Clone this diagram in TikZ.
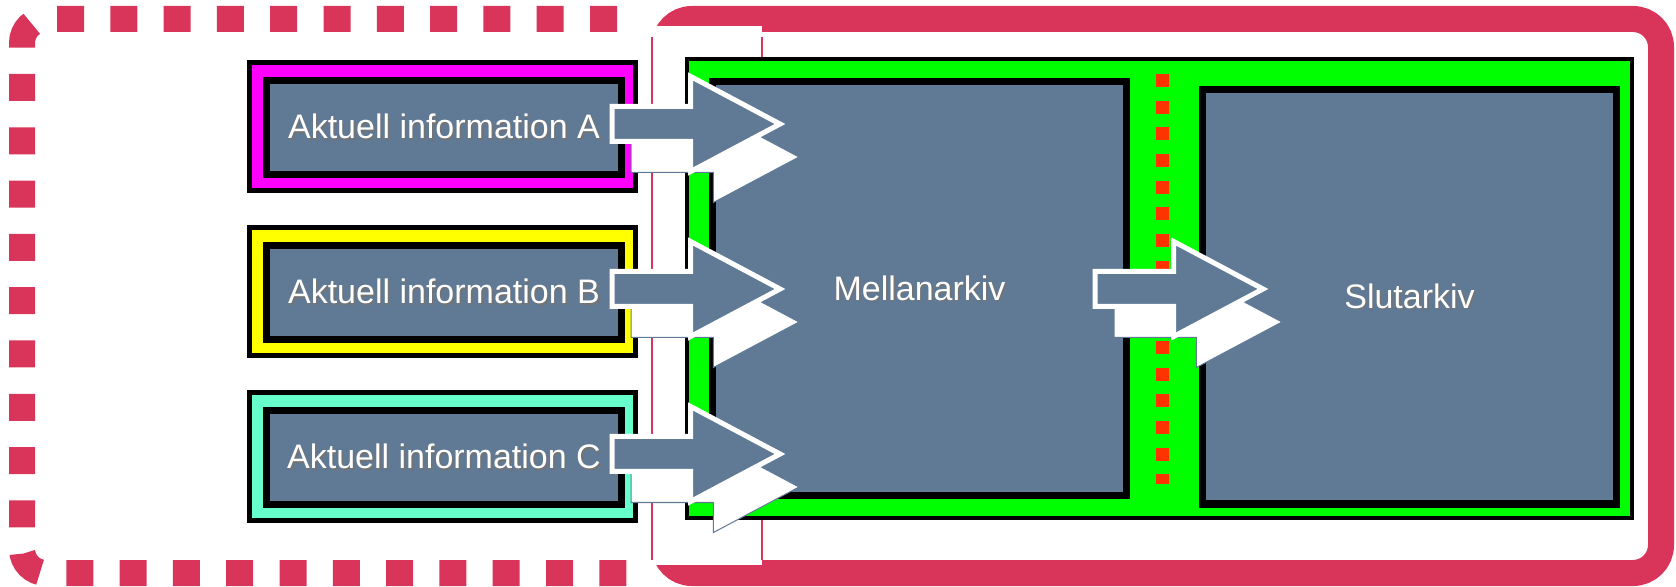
\documentclass[tikz,border=0pt]{standalone}
\usepackage{fontspec}
\setmainfont{Liberation Sans}
\usetikzlibrary{shapes.arrows}
\definecolor{frameCol}{RGB}{217,52,89}
\definecolor{slateCol}{RGB}{96,122,150}
\definecolor{dotCol}{RGB}{255,51,0}
\definecolor{infoACol}{RGB}{255,0,255}
\definecolor{infoBCol}{RGB}{255,255,0}
\definecolor{infoCCol}{RGB}{102,255,204}
\definecolor{archiveCol}{RGB}{0,255,0}
\newcommand{\shadowtext}[1]{\rlap{\kern0.8pt\raisebox{-0.8pt}{\color{black!55}#1}}#1}
\tikzset{
    info frame/.style={draw=black, line width=2.5pt, minimum width=193pt, minimum height=64pt, inner sep=0pt},
    info box/.style={draw=black, fill=slateCol, line width=3.5pt, minimum width=177.5pt, minimum height=47pt,
        inner sep=0pt, text=white, font=\fontsize{17}{20}\selectfont},
    archive box/.style={draw=black, fill=slateCol, line width=3.5pt, minimum width=207pt, minimum height=207pt,
        inner sep=0pt, text=white, font=\fontsize{17}{20}\selectfont},
    block arrow/.style={single arrow, anchor=tail, outer sep=0pt, fill=slateCol, draw=white, line width=2.5pt,
        minimum height=84pt, inner xsep=0pt, inner ysep=7.5pt, single arrow head extend=15pt, single arrow tip angle=56},
    arrow shadow/.style={block arrow, fill=white, draw=slateCol, line width=0.5pt},
    common settings/.style={
        x=0.5pt,
        y=-0.5pt
    }
}

\begin{document}
\begin{tikzpicture}[common settings]

    % Configuration
    \def\boxX{444}     % centre x of the information boxes
    \def\pitch{165}    % distance between the information boxes
    \def\tailX{612}    % tail of the incoming arrows
    \def\shX{19}       % shadow offset x
    \def\shY{33}       % shadow offset y

    \useasboundingbox (0,0) rectangle (1676,587);

    % 1. Draw Outer Frames
    \draw[frameCol, line width=13pt, rounded corners=14pt] (664,19) rectangle (1661,573);
    \draw[frameCol, line width=13pt, rounded corners=12pt, dash pattern=on 13.5pt off 13.15pt, dash phase=15.15pt]
        (640,19) -- (22,19) -- (22,573) -- (640,573);

    % White strip with thin edges
    \fill[white] (652,26) rectangle (762,565);
    \draw[frameCol, line width=0.8pt] (652,37) -- (652,560);
    \draw[frameCol, line width=0.8pt] (762,37) -- (762,560);

    % 2. Information Boxes
    \foreach \lbl/\fillcol [count=\i from 0] in {A/infoACol, B/infoBCol, C/infoCCol} {
        \node[info frame, fill=\fillcol] (frame\lbl) at (442.5, 126.5+\i*\pitch) {};
        \node[info box] (info\lbl) at (\boxX, 127.5+\i*\pitch) {\shadowtext{Aktuell information \lbl}};
    }

    % 3. Archive Container
    \node[draw=black, fill=archiveCol, line width=2pt, minimum width=472.5pt, minimum height=229.5pt, inner sep=0pt]
        (archive) at (1159.5,288.5) {};
    \draw[dotCol, line width=6.5pt, dash pattern=on 6.5pt off 6.85pt] (1162,74) -- (1162,484);

    \node[archive box] (mellan) at (919.5,289) {\shadowtext{Mellanarkiv}};
    \node[archive box] (slut) at (1409.5,297) {\shadowtext{Slutarkiv}};

    % 4. Block Arrows with Shadows
    \foreach \lbl [count=\i from 0] in {A, B, C} {
        \node[arrow shadow] (shadow\lbl) at (\tailX+\shX, 124+\i*\pitch+\shY) {};
        \node[block arrow] (arrow\lbl) at (\tailX, 124+\i*\pitch) {};
    }
    \node[arrow shadow] (shadowD) at (1095+\shX, 289+\shY) {};
    \node[block arrow] (arrowD) at (1095, 289) {};

\end{tikzpicture}
\end{document}
